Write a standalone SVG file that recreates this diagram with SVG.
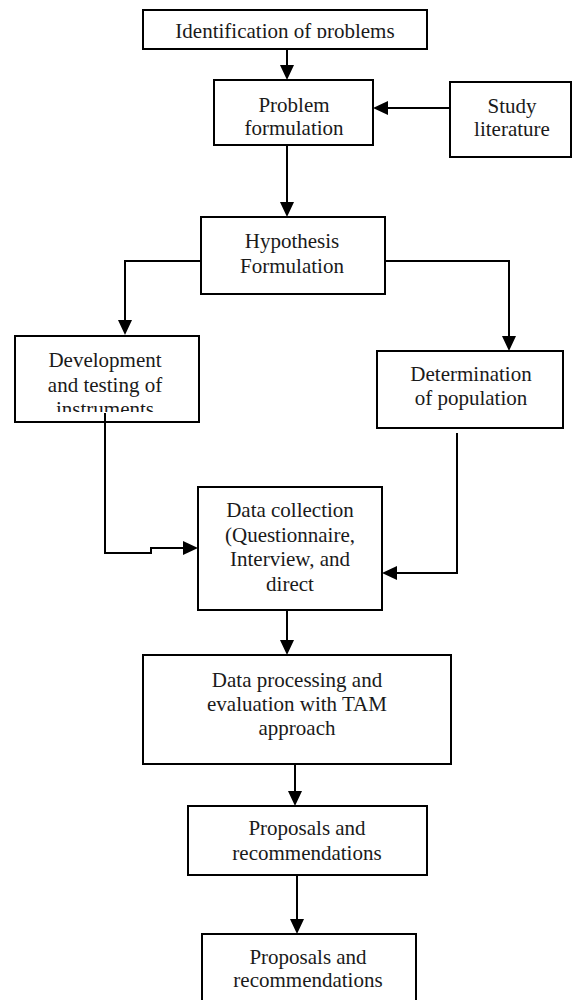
<svg xmlns="http://www.w3.org/2000/svg" width="572" height="1000" viewBox="0 0 572 1000">
<style>
.box{fill:#fff;stroke:#000;stroke-width:2}
.t{font-family:"Liberation Serif","Times New Roman",serif;font-size:21px;fill:#1a1a1a;text-anchor:middle}
.c{fill:none;stroke:#000;stroke-width:2}
</style>
<defs>
<marker id="ah" markerUnits="userSpaceOnUse" markerWidth="15" markerHeight="14" refX="7" refY="7" orient="auto" viewBox="0 0 15 14">
<path d="M0,0 L15,7 L0,14 Z" fill="#000"/>
</marker>
<clipPath id="clip1"><rect x="143" y="10" width="284" height="28"/></clipPath>
<clipPath id="clipDev"><rect x="15" y="336" width="184" height="76"/></clipPath>
</defs>
<rect width="572" height="1000" fill="#fff"/>
<g id="n-identification">
<rect class="box" x="143" y="10" width="284" height="39"/>
<text class="t" x="285" y="37.5" clip-path="url(#clip1)">Identification of problems</text>
</g>
<g id="n-problem">
<rect class="box" x="214" y="80" width="159" height="65"/>
<text class="t" x="294" y="112">Problem</text>
<text class="t" x="294" y="135">formulation</text>
</g>
<g id="n-study">
<rect class="box" x="450" y="82" width="121" height="75"/>
<text class="t" x="512" y="113">Study</text>
<text class="t" x="512" y="136">literature</text>
</g>
<g id="n-hypothesis">
<rect class="box" x="201" y="217" width="184" height="77"/>
<text class="t" x="292" y="248">Hypothesis</text>
<text class="t" x="292" y="273">Formulation</text>
</g>
<g id="n-development">
<rect class="box" x="15" y="336" width="184" height="86"/>
<text class="t" x="105" y="367">Development</text>
<text class="t" x="105" y="392">and testing of</text>
<text class="t" x="105" y="416" clip-path="url(#clipDev)">instruments</text>
</g>
<g id="n-determination">
<rect class="box" x="377" y="351" width="186" height="77"/>
<text class="t" x="471" y="381">Determination</text>
<text class="t" x="471" y="405">of population</text>
</g>
<g id="n-collection">
<rect class="box" x="198" y="487" width="184" height="123"/>
<text class="t" x="290" y="517">Data collection</text>
<text class="t" x="290" y="541.5">(Questionnaire,</text>
<text class="t" x="290" y="566">Interview, and</text>
<text class="t" x="290" y="590.5">direct</text>
</g>
<g id="n-processing">
<rect class="box" x="143" y="655" width="308" height="109"/>
<text class="t" x="297" y="687">Data processing and</text>
<text class="t" x="297" y="711">evaluation with TAM</text>
<text class="t" x="297" y="735">approach</text>
</g>
<g id="n-proposals1">
<rect class="box" x="188" y="806" width="239" height="69"/>
<text class="t" x="307" y="835">Proposals and</text>
<text class="t" x="307" y="860">recommendations</text>
</g>
<g id="n-proposals2">
<rect class="box" x="202" y="934" width="214" height="70"/>
<text class="t" x="308" y="964">Proposals and</text>
<text class="t" x="308" y="987">recommendations</text>
</g>
<g id="connectors">
<path class="c" d="M287,49 V72" marker-end="url(#ah)"/>
<path class="c" d="M450,108 H381" marker-end="url(#ah)"/>
<path class="c" d="M287,145 V209" marker-end="url(#ah)"/>
<path class="c" d="M201,261 H125 V327" marker-end="url(#ah)"/>
<path class="c" d="M385,261 H509 V343" marker-end="url(#ah)"/>
<path class="c" d="M105,413 V553 H151 V548 H190" marker-end="url(#ah)"/>
<path class="c" d="M457,433 V573 H390" marker-end="url(#ah)"/>
<path class="c" d="M287,610 V647" marker-end="url(#ah)"/>
<path class="c" d="M295,764 V798" marker-end="url(#ah)"/>
<path class="c" d="M297,875 V926" marker-end="url(#ah)"/>
</g>
</svg>
